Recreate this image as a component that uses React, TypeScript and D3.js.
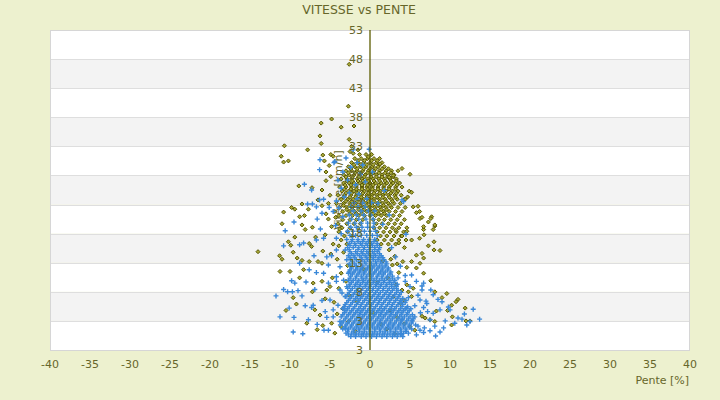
import * as d3 from "d3";

const title = "VITESSE vs PENTE";
const xLabel = "Pente [%]";
const yLabel = "Vitesse [km/h]";

const xTicks = [-40, -35, -30, -25, -20, -15, -10, -5, 0, 5, 10, 15, 20, 25, 30, 35, 40];
const yBands = [-2, 3, 8, 13, 18, 23, 28, 33, 38, 43, 48, 53];
const yTicks: [number, string][] = [
  [-2, "3"], [3, "3"], [8, "8"], [13, "13"], [18, "18"], [23, "23"],
  [28, "28"], [33, "33"], [38, "38"], [43, "43"], [48, "48"], [53, "53"],
];

// olive series: dense block, rows of [vitesse, pentes]
const oliveCoreRows: [number, number[]][] = [
  [31.6, [-1.3, -0.5, 0.2]],
  [30.9, [-1.9, -1.1, -0.3, 0.5, 1.2]],
  [30.2, [-2.3, -1.5, -0.8, 0.0, 0.8, 1.5]],
  [29.5, [-2.7, -1.9, -1.2, -0.5, 0.3, 1.0, 1.8]],
  [28.8, [-3.0, -2.3, -1.6, -0.9, -0.2, 0.5, 1.2, 2.0, 2.7]],
  [28.1, [-3.3, -2.6, -2.0, -1.3, -0.6, 0.1, 0.8, 1.5, 2.2, 3.0]],
  [27.4, [-3.6, -2.9, -2.3, -1.6, -1.0, -0.3, 0.4, 1.1, 1.8, 2.5, 3.3]],
  [26.7, [-3.3, -2.6, -2.0, -1.3, -0.7, 0.0, 0.7, 1.4, 2.1, 2.9, 3.7]],
  [26.0, [-3.8, -3.0, -2.3, -1.7, -1.0, -0.4, 0.3, 1.0, 1.7, 2.4, 3.2, 4.0]],
  [25.3, [-3.5, -2.7, -2.0, -1.4, -0.7, -0.1, 0.6, 1.3, 2.0, 2.8, 3.5]],
  [24.6, [-4.0, -3.2, -2.4, -1.7, -1.1, -0.4, 0.2, 0.9, 1.6, 2.3, 3.1, 3.9]],
  [23.9, [-3.6, -2.8, -2.1, -1.4, -0.8, -0.1, 0.5, 1.2, 1.9, 2.7, 3.4, 4.3]],
  [23.2, [-4.2, -3.3, -2.5, -1.8, -1.1, -0.5, 0.2, 0.9, 1.6, 2.3, 3.0, 3.8]],
  [22.5, [-3.8, -2.9, -2.2, -1.5, -0.8, -0.1, 0.6, 1.3, 2.0, 2.7, 3.5, 4.4]],
  [21.8, [-4.4, -3.4, -2.6, -1.9, -1.1, -0.4, 0.3, 1.0, 1.7, 2.4, 3.2, 4.0]],
  [21.1, [-3.9, -3.0, -2.2, -1.4, -0.7, 0.0, 0.7, 1.4, 2.1, 2.9, 3.7]],
  [20.4, [-3.4, -2.5, -1.7, -0.9, 0.4, 1.1, 1.8, 2.6, 3.4, 4.3]],
  [19.7, [-4.0, -2.9, -2.0, -1.2, 0.8, 1.5, 2.3, 3.1, 3.9]],
  [19.0, [-3.5, -2.5, -1.5, 0.5, 1.2, 2.0, 2.8, 3.6, 4.6]],
  [18.3, [-3.9, -2.8, 0.9, 1.7, 2.5, 3.3, 4.2]],
  [17.6, [-3.2, -2.2, 1.3, 2.1, 3.0, 3.9]],
  [16.9, [-3.6, 0.9, 1.8, 2.7, 3.6, 4.5]],
  [16.2, [-2.9, 1.4, 2.3, 3.2]],
];

// olive series: extra dense points between the rows above
const oliveFillRows: [number, number[]][] = [
  [30.55, [-1.5, -0.7, 0.2, 0.9]],
  [29.85, [-2.0, -1.2, -0.4, 0.4, 1.2]],
  [29.15, [-2.4, -1.6, -0.8, 0.0, 0.7, 1.5, 2.3]],
  [28.45, [-2.7, -1.9, -1.1, -0.3, 0.4, 1.1, 1.9, 2.6]],
  [27.75, [-3.0, -2.2, -1.4, -0.7, 0.1, 0.8, 1.5, 2.2, 2.9]],
  [27.05, [-2.9, -2.2, -1.5, -0.9, -0.2, 0.5, 1.2, 1.9, 2.6, 3.3]],
  [26.35, [-3.1, -2.4, -1.7, -1.0, -0.3, 0.4, 1.1, 1.8, 2.6, 3.4]],
  [25.65, [-3.2, -2.4, -1.7, -1.0, -0.3, 0.3, 1.0, 1.7, 2.4, 3.2]],
  [24.95, [-3.0, -2.3, -1.6, -0.9, -0.2, 0.5, 1.2, 1.9, 2.6, 3.3]],
  [24.25, [-3.3, -2.5, -1.8, -1.1, -0.4, 0.2, 0.9, 1.6, 2.4, 3.2]],
  [23.55, [-3.0, -2.3, -1.6, -0.9, -0.2, 0.5, 1.2, 2.0, 2.8]],
  [22.85, [-3.3, -2.5, -1.8, -1.1, -0.4, 0.3, 1.0, 1.7, 2.5]],
  [22.15, [-2.9, -2.2, -1.4, -0.7, 0.0, 0.7, 1.4, 2.1]],
  [21.45, [-2.5, -1.7, -1.0, 0.4, 1.1, 1.8]],
];

// olive series: scattered points [pente, vitesse]
const oliveScatter: [number, number][] = [
  [-2.6, 47.1], [-2.7, 39.9], [-6.1, 37.0], [-4.8, 37.7], [-3.6, 36.3], [-2.0, 36.5],
  [-6.25, 34.8], [-6.1, 33.5], [-10.7, 33.1], [-7.8, 32.4], [-11.1, 31.3], [-10.8, 30.3],
  [-10.2, 30.5], [-5.9, 31.5], [-5.7, 30.5], [-4.9, 31.6], [-5.1, 29.7], [-5.5, 28.6],
  [-7.25, 25.9], [-8.9, 26.2], [-6.0, 25.5], [-5.5, 27.1], [-4.9, 27.8], [-8.5, 23.1],
  [-9.8, 22.5], [-9.4, 22.2], [-10.8, 21.7], [-8.8, 20.9], [-8.2, 21.1], [-7.7, 22.2],
  [-6.5, 23.8], [-6.0, 22.8], [-5.2, 23.2], [-5.0, 24.6], [-2.5, 32.1], [-2.3, 33.0],
  [-2.6, 34.2], [-2.1, 31.8], [-1.5, 32.4], [-0.2, 31.2], [-4.6, 31.3],
  [1.25, 30.0], [3.5, 28.8], [4.0, 29.2], [5.0, 28.2], [2.9, 28.0], [2.4, 27.7],
  [4.9, 25.3], [5.2, 25.1], [4.7, 24.3], [4.4, 23.9], [5.4, 22.6], [6.2, 21.8],
  [7.7, 20.9], [7.6, 20.6], [6.25, 20.6], [6.0, 22.7], [5.8, 21.6], [6.5, 20.8], [7.3, 20.0],
  [8.1, 19.3], [6.7, 18.7], [8.1, 19.5], [7.9, 18.7], [6.7, 19.2], [6.75, 17.8], [6.2, 17.2],
  [5.2, 16.9], [8.0, 16.6], [7.3, 15.9], [8.0, 15.2], [8.75, 15.1], [6.5, 14.6], [5.8, 14.3],
  [6.7, 13.8], [6.25, 12.9], [5.2, 13.2], [5.8, 12.1], [6.7, 11.2], [7.6, 9.9], [8.1, 8.0],
  [9.6, 7.7], [9.0, 7.0], [11.0, 6.7], [10.75, 6.3], [11.9, 5.2], [10.2, 5.7], [9.7, 4.8],
  [10.3, 3.7], [12.5, 3.0], [12.0, 3.0], [10.2, 2.3], [8.1, 2.9], [7.5, 3.2], [6.9, 3.5],
  [8.3, 4.7], [4.8, 8.0], [5.2, 7.2], [4.6, 9.2], [5.4, 8.6], [4.2, 6.6], [6.5, 3.8],
  [5.0, 2.0], [5.6, 1.4], [3.2, 18.6], [4.0, 17.6], [4.6, 18.4], [3.6, 16.4], [4.3, 15.6],
  [2.6, 13.6], [3.4, 12.8], [4.1, 13.2], [4.6, 12.2],
  [-11.0, 19.7], [-8.5, 19.5], [-8.1, 18.7], [-7.2, 19.1], [-9.4, 17.4], [-10.2, 16.6],
  [-14.0, 14.9], [-11.3, 14.2], [-11.0, 13.6], [-7.6, 16.3], [-7.3, 15.8], [-9.6, 14.8],
  [-9.1, 13.8], [-8.5, 13.4], [-7.6, 13.2], [-10.0, 11.5], [-11.25, 11.5], [-8.3, 11.8],
  [-6.5, 13.2], [-6.0, 12.9], [-7.1, 9.5], [-6.0, 9.8], [-7.2, 8.0], [-9.6, 7.0],
  [-10.5, 4.8], [-6.9, 4.9], [-6.25, 4.0], [-4.8, 2.6], [-4.4, 0.9], [-5.4, 8.3], [-5.0, 8.9],
  [-3.3, 14.8], [-2.8, 12.5], [-3.6, 11.2], [-4.1, 13.6], [-3.0, 9.8], [-3.9, 8.6],
  [-2.6, 7.4], [-4.5, 6.2], [-3.4, 5.1], [2.4, 15.2], [3.1, 14.1], [2.8, 12.6], [3.6, 11.3],
  [2.2, 10.4], [3.3, 9.2], [4.0, 8.3], [2.9, 7.1], [3.8, 6.0], [2.5, 4.8], [3.4, 3.6],
  [4.3, 2.5], [2.1, 1.6], [3.1, 0.8], [1.4, 2.4], [-1.8, 1.2], [-2.7, 2.9], [1.6, 13.3],
  [0.9, 9.6], [-0.8, 11.9], [-1.6, 6.3], [0.4, 4.4],
  [-5.2, 20.5], [-4.8, 19.2], [-5.6, 17.8], [-4.6, 16.2], [-5.9, 15.0], [-4.9, 14.5],
  [-6.8, 17.4], [-3.8, 18.8], [-4.3, 20.8], [-5.5, 21.4], [-3.9, 15.9], [-4.7, 10.4],
  [-5.6, 6.8], [-4.1, 4.2], [-3.6, 2.0], [-5.9, 2.2], [-8.8, 10.4], [-9.2, 5.9],
  [-7.9, 2.6], [-6.6, 1.5], [-9.9, 16.0],
];

// blue series: dense block, rows of [vitesse, pentes]
const blueCoreRows: [number, number[]][] = [
  [24.0, [-1.6, -0.4]],
  [23.3, [-2.0, -0.9, 0.2]],
  [22.6, [-2.4, -1.5, -0.6]],
  [21.9, [-2.1, -1.1, -0.2, 0.6]],
  [21.2, [-2.6, -1.7, -0.8, 0.1]],
  [20.5, [-2.3, -1.4, -0.5, 0.4]],
  [19.8, [-2.7, -1.9, -1.1, -0.3, 0.5]],
  [19.1, [-2.4, -1.7, -1.0, -0.3, 0.4]],
  [18.4, [-2.8, -2.1, -1.4, -0.7, 0.0, 0.7]],
  [17.7, [-2.5, -1.8, -1.1, -0.4, 0.3, 0.9]],
  [17.0, [-2.9, -2.2, -1.5, -0.8, -0.1, 0.6]],
  [16.3, [-2.6, -1.9, -1.2, -0.5, 0.2, 0.9]],
  [15.6, [-2.8, -2.1, -1.4, -0.7, 0.0, 0.6, 1.2]],
  [14.9, [-2.5, -1.8, -1.1, -0.4, 0.3, 0.9]],
  [14.2, [-2.7, -2.0, -1.3, -0.6, 0.1, 0.7, 1.4]],
  [13.5, [-2.4, -1.7, -1.0, -0.3, 0.4, 1.0, 1.7]],
  [12.8, [-2.6, -1.9, -1.2, -0.5, 0.2, 0.8, 1.5, 2.1]],
  [12.1, [-2.3, -1.6, -1.0, -0.3, 0.3, 1.0, 1.6, 2.3]],
  [11.4, [-2.6, -2.0, -1.3, -0.7, 0.0, 0.6, 1.3, 1.9, 2.6]],
  [10.7, [-2.4, -1.7, -1.1, -0.4, 0.2, 0.9, 1.5, 2.2, 2.8]],
  [10.0, [-2.7, -2.1, -1.4, -0.8, -0.1, 0.5, 1.2, 1.8, 2.5, 3.1]],
  [9.3, [-2.5, -1.8, -1.2, -0.5, 0.1, 0.8, 1.4, 2.1, 2.7, 3.4]],
  [8.6, [-2.8, -2.2, -1.5, -0.9, -0.2, 0.4, 1.1, 1.7, 2.4, 3.0]],
  [7.9, [-2.6, -1.9, -1.3, -0.6, 0.0, 0.7, 1.3, 2.0, 2.6, 3.3, 3.9]],
  [7.2, [-3.0, -2.3, -1.6, -1.0, -0.3, 0.3, 1.0, 1.6, 2.3, 2.9, 3.6]],
  [6.5, [-2.7, -2.0, -1.4, -0.7, -0.1, 0.6, 1.2, 1.9, 2.5, 3.2, 3.8, 4.5]],
  [5.8, [-3.1, -2.4, -1.7, -1.1, -0.4, 0.2, 0.9, 1.5, 2.2, 2.8, 3.5, 4.1]],
  [5.1, [-3.4, -2.8, -2.1, -1.4, -0.8, -0.1, 0.5, 1.2, 1.8, 2.5, 3.1, 3.8, 4.4, 5.1]],
  [4.4, [-3.2, -2.5, -1.8, -1.2, -0.5, 0.1, 0.8, 1.4, 2.1, 2.7, 3.4, 4.0, 4.7]],
  [3.7, [-3.6, -2.9, -2.2, -1.5, -0.9, -0.2, 0.4, 1.1, 1.7, 2.4, 3.0, 3.7, 4.3, 5.0, 5.6]],
  [3.0, [-3.3, -2.6, -1.9, -1.3, -0.6, 0.0, 0.7, 1.3, 2.0, 2.6, 3.3, 3.9, 4.6, 5.3]],
  [2.3, [-3.7, -3.0, -2.3, -1.6, -1.0, -0.3, 0.3, 1.0, 1.6, 2.3, 2.9, 3.6, 4.2, 4.9, 5.7]],
  [1.6, [-3.4, -2.7, -2.0, -1.4, -0.7, -0.1, 0.6, 1.2, 1.9, 2.5, 3.2, 3.8, 4.5, 5.2]],
  [0.9, [-3.0, -2.3, -1.7, -1.0, -0.4, 0.3, 0.9, 1.6, 2.2, 2.9, 3.5, 4.2, 4.8]],
  [0.3, [-2.4, -1.8, -1.1, -0.5, 0.2, 0.8, 1.5, 2.1, 2.8, 3.4, 4.1]],
];

// blue series: extra dense points between the rows above
const blueFillRows: [number, number[]][] = [
  [16.65, [-2.3, -1.5, -0.9, -0.2, 0.5]],
  [15.95, [-2.5, -1.8, -1.0, -0.3, 0.3, 0.9]],
  [15.25, [-2.6, -1.5, -0.8, -0.1, 0.6, 1.1]],
  [14.55, [-2.3, -1.6, -0.9, -0.2, 0.5, 1.2]],
  [13.85, [-2.5, -1.9, -1.1, -0.4, 0.4, 1.1, 1.6]],
  [13.15, [-2.2, -1.4, -0.7, 0.0, 0.7, 1.3, 2.0]],
  [12.45, [-2.4, -1.7, -0.9, -0.1, 0.5, 1.2, 1.9]],
  [11.75, [-2.5, -1.8, -1.2, -0.5, 0.1, 0.8, 1.5, 2.2]],
  [11.05, [-2.2, -1.5, -0.8, -0.1, 0.4, 1.1, 1.7, 2.5]],
  [10.35, [-2.5, -1.8, -1.0, -0.5, 0.2, 0.8, 1.5, 2.1, 2.8]],
  [9.65, [-2.3, -1.6, -0.9, -0.3, 0.4, 1.0, 1.7, 2.4, 3.0]],
  [8.95, [-2.6, -1.9, -1.3, -0.6, 0.0, 0.7, 1.3, 2.0, 2.7, 3.3]],
  [8.25, [-2.4, -1.7, -1.1, -0.4, 0.3, 0.9, 1.6, 2.2, 2.8, 3.5]],
  [7.55, [-2.8, -2.1, -1.5, -0.8, -0.2, 0.5, 1.1, 1.8, 2.4, 3.1, 3.7]],
  [6.85, [-2.5, -1.8, -1.2, -0.5, 0.1, 0.8, 1.4, 2.1, 2.7, 3.4, 4.1]],
  [6.15, [-2.9, -2.2, -1.5, -0.9, -0.2, 0.4, 1.1, 1.7, 2.4, 3.0, 3.7, 4.4]],
  [5.45, [-3.2, -2.6, -1.9, -1.2, -0.6, 0.1, 0.7, 1.4, 2.0, 2.7, 3.3, 4.0, 4.7]],
  [4.75, [-3.0, -2.3, -1.6, -1.0, -0.3, 0.3, 1.0, 1.6, 2.3, 2.9, 3.6, 4.2, 4.9]],
  [4.05, [-3.4, -2.7, -2.0, -1.3, -0.7, 0.0, 0.6, 1.3, 1.9, 2.6, 3.2, 3.9, 4.6, 5.3]],
  [3.35, [-3.1, -2.4, -1.7, -1.1, -0.4, 0.2, 0.9, 1.5, 2.2, 2.8, 3.5, 4.1, 4.8, 5.4]],
  [2.65, [-3.5, -2.8, -2.1, -1.4, -0.8, -0.1, 0.5, 1.2, 1.8, 2.5, 3.1, 3.8, 4.5, 5.2]],
  [1.95, [-3.1, -2.4, -1.7, -1.1, -0.4, 0.3, 0.9, 1.5, 2.2, 2.8, 3.5, 4.2, 4.9]],
  [1.25, [-2.8, -2.1, -1.3, -0.7, 0.0, 0.6, 1.3, 1.9, 2.6, 3.2, 3.9, 4.5]],
  [0.6, [-2.7, -2.0, -1.4, -0.8, -0.1, 0.5, 1.2, 1.8, 2.5, 3.1, 3.8]],
];

// blue series: scattered points [pente, vitesse]
const blueScatter: [number, number][] = [
  [-2.1, 32.4], [-0.1, 32.5], [-4.5, 30.2], [-4.0, 27.2], [-6.25, 30.7], [-6.3, 29.0],
  [-8.2, 26.5], [-7.3, 25.5], [-7.8, 23.1], [-7.2, 23.1], [-6.3, 23.8], [-5.8, 23.9],
  [-6.7, 22.6], [-6.0, 21.5], [-4.4, 30.4], [-3.0, 31.0], [-1.6, 30.2], [-2.4, 29.4],
  [-3.4, 28.6], [-1.2, 28.2], [-2.8, 27.2], [-1.8, 26.4], [-3.6, 25.8], [-2.6, 25.0],
  [-1.4, 24.8], [-3.2, 24.3], [-4.2, 23.6], [-0.6, 26.9], [0.3, 28.6], [-0.9, 29.8],
  [-3.9, 22.4], [-4.6, 21.8], [-5.1, 22.5], [-6.6, 20.5], [-3.4, 20.9], [-4.3, 19.4],
  [-3.6, 18.0], [-4.2, 17.2], [-5.8, 17.2], [-6.7, 16.9], [4.0, 23.8], [4.2, 23.5],
  [4.5, 17.9], [1.8, 25.4], [1.0, 23.2], [2.4, 21.2], [1.6, 19.6],
  [-9.5, 20.0], [-10.6, 18.5], [-10.8, 15.9], [-8.8, 16.1], [-8.3, 16.4], [-7.6, 11.8],
  [-6.7, 11.3], [-9.8, 9.9], [-9.4, 9.5], [-8.0, 9.7], [-10.8, 8.4], [-10.3, 8.0],
  [-9.7, 8.0], [-9.0, 8.2], [-8.5, 7.3], [-11.75, 7.3], [-8.1, 5.6], [-7.3, 5.3],
  [-11.25, 3.7], [-9.5, 3.6], [-9.6, 1.1], [-7.1, 5.7], [-6.0, 6.5], [-5.4, 3.6],
  [-5.75, 1.4], [-5.2, 1.4], [-4.6, 4.9], [-4.8, 14.2], [-4.2, 15.2], [-3.75, 12.3],
  [-4.2, 9.8], [-3.5, 7.8], [-5.4, 14.0], [-5.8, 11.2], [-5.2, 9.5], [-4.2, 10.6],
  [-3.75, 8.3], [-5.0, 6.6], [-5.6, 4.6], [-4.6, 3.7], [-3.75, 2.9], [-3.1, 1.7],
  [-4.0, 5.7], [-3.3, 5.2], [-3.1, 7.2], [-2.9, 8.9], [-3.3, 10.0], [-2.7, 11.2],
  [-2.9, 13.5], [-3.1, 15.2], [-7.0, 14.2], [-6.2, 18.8], [-8.8, 12.9], [-7.7, 3.2],
  [-6.6, 2.4], [-10.1, 5.2], [-8.4, 0.8], [-6.9, 8.4], [-5.2, 12.6],
  [12.9, 5.0], [13.7, 3.3], [12.1, 2.3], [11.5, 3.3], [11.0, 3.5], [10.0, 4.9], [9.8, 5.4],
  [9.0, 6.3], [8.5, 6.7], [8.75, 4.9], [7.9, 4.3], [7.5, 3.2], [8.1, 2.1], [8.75, 1.1],
  [6.25, 6.6], [6.7, 5.3], [7.1, 6.0], [5.8, 9.8], [6.5, 8.3], [6.7, 9.5], [5.2, 10.9],
  [4.4, 9.8], [5.0, 8.9], [7.6, 8.3], [7.9, 7.5], [6.25, 1.4], [6.7, 1.0], [7.5, 1.3],
  [4.0, 3.2], [3.8, 12.4], [4.4, 10.8], [3.3, 8.6], [4.8, 7.0], [5.6, 5.6], [6.3, 4.4],
  [5.2, 3.0], [6.0, 2.1], [4.5, 1.2], [5.8, 0.6], [3.9, 0.8], [6.8, 1.8], [7.2, 4.6],
  [6.0, 7.4], [7.0, 6.4], [6.5, 9.0], [9.4, 3.0], [10.6, 2.6], [9.2, 1.8], [11.8, 4.2],
  [8.2, 0.4], [3.2, 14.0], [2.7, 15.6], [3.5, 10.4], [3.9, 6.2], [4.6, 5.2], [12.5, 2.9],
];

const fromRows = (rows: [number, number[]][]): [number, number][] =>
  rows.flatMap(([v, ps]) => ps.map((p) => [p, v] as [number, number]));

const W = 720;
const H = 400;
const plot = { left: 50, right: 690, top: 30, bottom: 350 };
const textColor = "#66662a";
const font = "DejaVu Sans, Verdana, sans-serif";

export default function App() {
  const x = d3.scaleLinear().domain([-40, 40]).range([plot.left, plot.right]);
  const y = d3.scaleLinear().domain([-2, 53]).range([plot.bottom, plot.top]);

  const olive = [...fromRows(oliveCoreRows), ...fromRows(oliveFillRows), ...oliveScatter];
  const blue = [...fromRows(blueCoreRows), ...fromRows(blueFillRows), ...blueScatter];

  const bands = d3.pairs(yBands);

  return (
    <div style={{ position: "absolute", left: 0, top: 0 }}>
      <svg width={W} height={H} style={{ display: "block", fontFamily: font }}>
        <rect width={W} height={H} fill="#edf1cf" />
        {bands.map(([a, b], i) => (
          <rect
            key={i}
            x={plot.left}
            y={y(b)}
            width={plot.right - plot.left}
            height={y(a) - y(b)}
            fill={i % 2 === 1 ? "#f3f3f3" : "#ffffff"}
          />
        ))}
        {yBands.map((v) => (
          <line
            key={v}
            x1={plot.left}
            x2={plot.right}
            y1={Math.round(y(v)) + 0.5}
            y2={Math.round(y(v)) + 0.5}
            stroke="#dedede"
          />
        ))}
        <rect
          x={plot.left + 0.5}
          y={plot.top + 0.5}
          width={plot.right - plot.left - 1}
          height={plot.bottom - plot.top}
          fill="none"
          stroke="#d6d6d6"
        />
        <text
          transform={`translate(${x(0) - 32},${(plot.top + plot.bottom) / 2}) rotate(-90)`}
          textAnchor="middle"
          dy="0.35em"
          fontSize={11}
          fill={textColor}
        >
          {yLabel}
        </text>
        <g>
          {olive.map(([p, v], i) => (
            <path
              key={i}
              transform={`translate(${x(p)},${y(v)})`}
              d="M0,-2L2,0L0,2L-2,0Z"
              fill="#a8a838"
              stroke="#555500"
              strokeWidth={1}
            />
          ))}
        </g>
        <g>
          {blue.map(([p, v], i) => (
            <path
              key={i}
              transform={`translate(${x(p)},${y(v)})`}
              d="M-2.5,0H2.5M0,-2.5V2.5"
              stroke="#3a88d8"
              strokeWidth={1.4}
            />
          ))}
        </g>
        <line x1={x(0)} x2={x(0)} y1={plot.top} y2={plot.bottom} stroke="#5c5c00" strokeWidth={1.3} />
        {yTicks.map(([v, label]) => (
          <text
            key={v}
            x={x(0) - 7}
            y={y(v)}
            dy="0.35em"
            textAnchor="end"
            fontSize={11}
            fill={textColor}
          >
            {label}
          </text>
        ))}
        {xTicks.map((t) => (
          <text key={t} x={x(t)} y={plot.bottom + 14} dy="0.35em" textAnchor="middle" fontSize={11} fill={textColor}>
            {t}
          </text>
        ))}
        <text x={plot.right - 1} y={380} dy="0.35em" textAnchor="end" fontSize={11} fill={textColor}>
          {xLabel}
        </text>
        <text x={359} y={10} dy="0.35em" textAnchor="middle" fontSize={12.5} fill={textColor}>
          {title}
        </text>
      </svg>
    </div>
  );
}
